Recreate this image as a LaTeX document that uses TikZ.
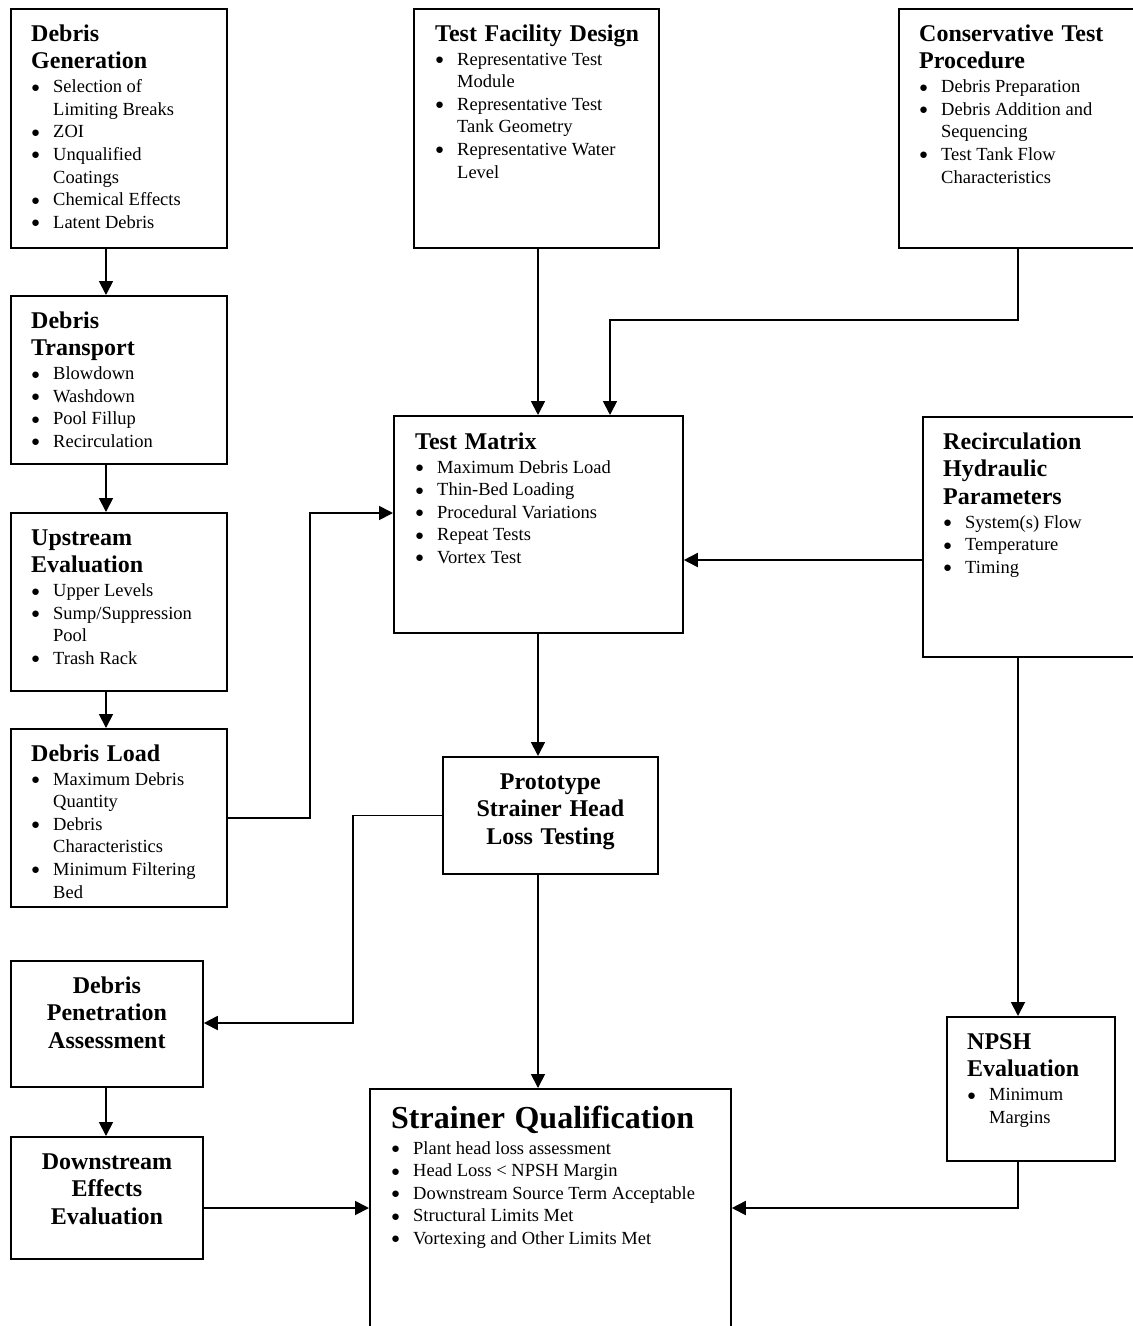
\documentclass[tikz,border=0pt]{standalone}
\usepackage{fontspec}
\setmainfont{Liberation Serif}
\usetikzlibrary{arrows.meta,calc}
\newcommand{\ttl}{\fontsize{24}{27.6}\selectfont\bfseries\spaceskip=0.32em\relax}
\newcommand{\bigttl}{\fontsize{32}{36}\selectfont\bfseries\spaceskip=0.3em\relax}
\newcommand{\bdy}{\fontsize{18.5}{22.6}\selectfont\mdseries\spaceskip=0pt\relax}
\newcommand{\bul}{\raisebox{0.6pt}{\fontsize{15}{15}\selectfont ●}}
\newcommand{\itm}[1]{\par\noindent\hangindent=22pt\hangafter=1 \makebox[22pt][l]{\bul}#1}
\tikzset{
  box/.style={draw, line width=1.8pt, inner sep=0pt, anchor=north west},
  ltext/.style={anchor=base west, inner sep=0pt, text width=300pt},
  ctext/.style={anchor=base, inner sep=0pt, align=center},
  arr/.style={line width=1.8pt, -{Triangle[length=14pt,width=14pt]}}
}
\begin{document}
\begin{tikzpicture}[x=1pt,y=-1pt]
\fill[white] (0,0) rectangle (1133,1326);
\useasboundingbox (0,0) rectangle (1133,1326);

% boxes
\node[box, minimum width=216pt, minimum height=239pt] (dg) at (10,8) {};
\node[box, minimum width=216pt, minimum height=168pt] (dt) at (10,295) {};
\node[box, minimum width=216pt, minimum height=178pt] (ue) at (10,512) {};
\node[box, minimum width=216pt, minimum height=178pt] (dl) at (10,728) {};
\node[box, minimum width=245pt, minimum height=239pt] (tf) at (413,8) {};
\node[box, minimum width=250pt, minimum height=239pt] (ct) at (898,8) {};
\node[box, minimum width=289pt, minimum height=217pt] (tm) at (393,415) {};
\node[box, minimum width=225pt, minimum height=240pt] (rh) at (922,416) {};
\node[box, minimum width=215pt, minimum height=117pt] (pr) at (442,756) {};
\node[box, minimum width=192pt, minimum height=126pt] (dp) at (10,960) {};
\node[box, minimum width=192pt, minimum height=122pt] (de) at (10,1136) {};
\node[box, minimum width=168pt, minimum height=144pt] (np) at (946,1016) {};
\node[box, minimum width=361pt, minimum height=260pt] (sq) at (369,1088) {};

% texts
\node[ltext] (dgt) at ([shift={(21,33)}]dg.north west) {\raggedright\ttl Debris\newline Generation\par\vspace{1.5pt}\bdy
\itm{Selection of\newline Limiting Breaks}
\itm{ZOI}
\itm{Unqualified\newline Coatings}
\itm{Chemical Effects}
\itm{Latent Debris}\par};

\node[ltext] (dtt) at ([shift={(21,33)}]dt.north west) {\raggedright\ttl Debris\newline Transport\par\vspace{1.5pt}\bdy
\itm{Blowdown}
\itm{Washdown}
\itm{Pool Fillup}
\itm{Recirculation}\par};

\node[ltext] (uet) at ([shift={(21,33)}]ue.north west) {\raggedright\ttl Upstream\newline Evaluation\par\vspace{1.5pt}\bdy
\itm{Upper Levels}
\itm{Sump/Suppression\newline Pool}
\itm{Trash Rack}\par};

\node[ltext] (dlt) at ([shift={(21,33)}]dl.north west) {\raggedright\ttl Debris Load\par\vspace{1.5pt}\bdy
\itm{Maximum Debris\newline Quantity}
\itm{Debris\newline Characteristics}
\itm{Minimum Filtering\newline Bed}\par};

\node[ltext] (tft) at ([shift={(22,33)}]tf.north west) {\raggedright\ttl Test Facility Design\par\vspace{1.5pt}\bdy
\itm{Representative Test\newline Module}
\itm{Representative Test\newline Tank Geometry}
\itm{Representative Water\newline Level}\par};

\node[ltext] (ctt) at ([shift={(21,33)}]ct.north west) {\raggedright\ttl Conservative Test\newline Procedure\par\vspace{1.5pt}\bdy
\itm{Debris Preparation}
\itm{Debris Addition and\newline Sequencing}
\itm{Test Tank Flow\newline Characteristics}\par};

\node[ltext] (tmt) at ([shift={(22,34)}]tm.north west) {\raggedright\ttl Test Matrix\par\vspace{1.5pt}\bdy
\itm{Maximum Debris Load}
\itm{Thin-Bed Loading}
\itm{Procedural Variations}
\itm{Repeat Tests}
\itm{Vortex Test}\par};

\node[ltext] (rht) at ([shift={(21,33)}]rh.north west) {\raggedright\ttl Recirculation\newline Hydraulic\newline Parameters\par\vspace{1.5pt}\bdy
\itm{System(s) Flow}
\itm{Temperature}
\itm{Timing}\par};

\node[ltext] (npt) at ([shift={(21,33)}]np.north west) {\raggedright\ttl NPSH\newline Evaluation\par\vspace{1.5pt}\bdy
\itm{Minimum\newline Margins}\par};

\node[ltext, text width=340pt] (sqt) at ([shift={(22,40)}]sq.north west) {\raggedright\bigttl Strainer Qualification\par\vspace{3.4pt}\bdy
\itm{Plant head loss assessment}
\itm{Head Loss < NPSH Margin}
\itm{Downstream Source Term Acceptable}
\itm{Structural Limits Met}
\itm{Vortexing and Other Limits Met}\par};

\node[ctext, text width=215pt] (prt) at ([shift={(0,33)}]pr.north) {\ttl Prototype\\Strainer Head\\Loss Testing\par};
\node[ctext, text width=192pt] (dpt) at ([shift={(0,33)}]dp.north) {\ttl Debris\\Penetration\\Assessment\par};
\node[ctext, text width=192pt] (det) at ([shift={(0,33)}]de.north) {\ttl Downstream\\Effects\\Evaluation\par};

% guide coordinates
\coordinate (xl) at (106,0);
\coordinate (xm) at (538,0);
\coordinate (xr) at (1018,0);
\coordinate (k1) at (310,513);
\coordinate (k2) at (610,320);
\coordinate (k3) at (0,560);
\coordinate (k4) at (1018,1208);
\coordinate (k6) at (353,1023);

% connectors
\draw[arr] (dg.south -| xl) -- (dt.north -| xl);
\draw[arr] (dt.south -| xl) -- (ue.north -| xl);
\draw[arr] (ue.south -| xl) -- (dl.north -| xl);
\draw[arr] (dl.east) -| (k1) -- (tm.west |- k1);
\draw[arr] (tf.south -| xm) -- (tm.north -| xm);
\draw[arr] (ct.south -| xr) |- (k2) -- (tm.north -| k2);
\draw[arr] (rh.west |- k3) -- (tm.east |- k3);
\draw[arr] (rh.south -| xr) -- (np.north -| xr);
\draw[arr] (np.south -| xr) -- (k4) -- (sq.east |- k4);
\draw[arr] (tm.south -| xm) -- (pr.north -| xm);
\draw[arr] (pr.west) -| (k6) -- (dp.east |- k6);
\draw[arr] (pr.south -| xm) -- (sq.north -| xm);
\draw[arr] (dp.south -| xl) -- (de.north -| xl);
\draw[arr] (de.east |- k4) -- (sq.west |- k4);
\end{tikzpicture}
\end{document}
